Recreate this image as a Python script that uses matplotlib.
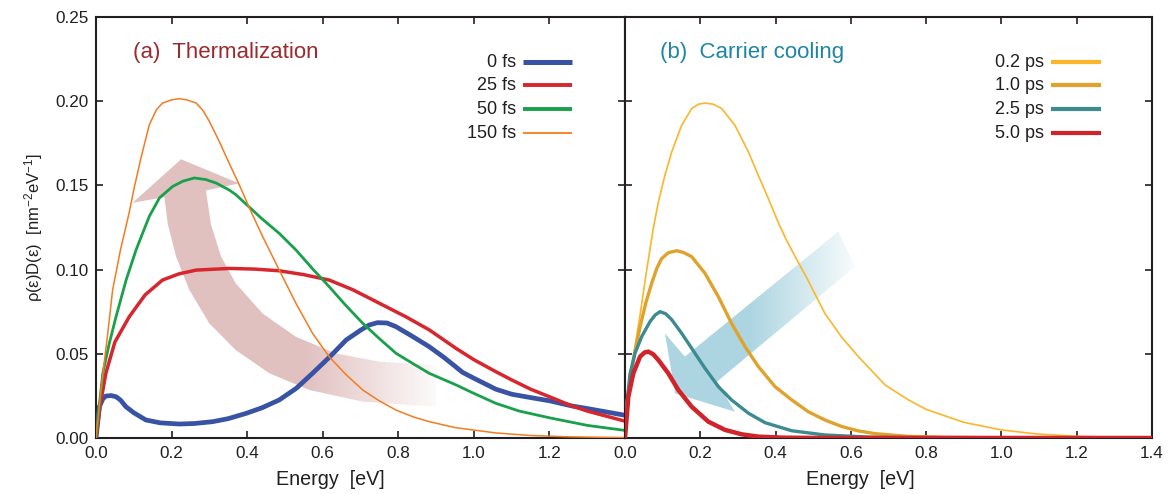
import numpy as np
import matplotlib
matplotlib.use("Agg")
import matplotlib.pyplot as plt
from matplotlib.patches import Polygon

plt.rcParams['font.family'] = ['Liberation Sans', 'DejaVu Sans']
plt.rcParams['mathtext.default'] = 'regular'

# ---- panel (a): thermalization ----
e_0fs = [0, 0.009, 0.018, 0.026, 0.040, 0.053, 0.065, 0.079, 0.100, 0.132, 0.170, 0.220, 0.260,
         0.309, 0.350, 0.397, 0.440, 0.485, 0.530, 0.573, 0.620, 0.662, 0.700, 0.723, 0.745, 0.770,
         0.794, 0.840, 0.882, 0.920, 0.948, 0.970, 1.000, 1.058, 1.100, 1.150, 1.200, 1.260, 1.300,
         1.350, 1.400]
v_0fs = [0, 0.0186, 0.0232, 0.0249, 0.0252, 0.0245, 0.0225, 0.0186, 0.0150, 0.0107, 0.0090, 0.0083,
         0.0086, 0.0097, 0.0115, 0.0146, 0.0180, 0.0226, 0.0295, 0.0384, 0.0485, 0.0582, 0.0640,
         0.0671, 0.0685, 0.0683, 0.0661, 0.0600, 0.0542, 0.0480, 0.0430, 0.0390, 0.0355, 0.0290,
         0.0260, 0.0240, 0.0221, 0.0190, 0.0175, 0.0155, 0.0135]

e_25fs = [0, 0.010, 0.026, 0.050, 0.088, 0.130, 0.176, 0.220, 0.265, 0.353, 0.420, 0.485, 0.550,
          0.617, 0.680, 0.750, 0.820, 0.882, 0.953, 1.000, 1.058, 1.100, 1.150, 1.200, 1.260, 1.300,
          1.350, 1.400]
v_25fs = [0, 0.018, 0.0384, 0.057, 0.0720, 0.0850, 0.0938, 0.0975, 0.0997, 0.1007, 0.1003, 0.0993,
          0.0970, 0.0938, 0.0880, 0.0800, 0.0720, 0.0642, 0.0532, 0.0465, 0.0394, 0.0345, 0.0290,
          0.0245, 0.0190, 0.0160, 0.0130, 0.0100]

e_50fs = [0, 0.008, 0.018, 0.035, 0.053, 0.080, 0.106, 0.141, 0.168, 0.203, 0.230, 0.260, 0.290,
          0.318, 0.353, 0.370, 0.415, 0.437, 0.485, 0.529, 0.573, 0.617, 0.660, 0.706, 0.750, 0.794,
          0.840, 0.882, 0.953, 1.000, 1.058, 1.120, 1.200, 1.300, 1.400]
v_50fs = [0, 0.018, 0.0384, 0.056, 0.0720, 0.094, 0.1117, 0.1316, 0.1426, 0.1494, 0.1525, 0.1544,
          0.1535, 0.1514, 0.1472, 0.1445, 0.1352, 0.1306, 0.1215, 0.1117, 0.1005, 0.0899, 0.0790,
          0.0681, 0.0590, 0.0503, 0.0440, 0.0384, 0.0315, 0.0265, 0.0206, 0.0160, 0.0120, 0.0075,
          0.0045]

e_150fs = [0, 0.013, 0.030, 0.044, 0.065, 0.088, 0.101, 0.119, 0.141, 0.160, 0.176, 0.200, 0.2205,
           0.240, 0.265, 0.283, 0.300, 0.326, 0.348, 0.379, 0.410, 0.441, 0.485, 0.529, 0.573,
           0.617, 0.660, 0.706, 0.750, 0.794, 0.840, 0.882, 0.950, 1.058, 1.150, 1.250, 1.400]
v_150fs = [0, 0.0285, 0.0600, 0.0879, 0.1120, 0.1340, 0.1485, 0.1663, 0.1860, 0.1950, 0.1989,
           0.2008, 0.2015, 0.2008, 0.1989, 0.1945, 0.1880, 0.1762, 0.1653, 0.1504, 0.1346, 0.1196,
           0.0997, 0.0800, 0.0622, 0.0483, 0.0380, 0.0285, 0.0220, 0.0166, 0.0125, 0.0097, 0.0062,
           0.0030, 0.0015, 0.0007, 0.0002]

# ---- panel (b): carrier cooling ----
e_02ps = [0, 0.005, 0.0133, 0.025, 0.040, 0.055, 0.075, 0.0886, 0.106, 0.124, 0.1505, 0.177,
          0.195, 0.2125, 0.235, 0.257, 0.292, 0.328, 0.354, 0.381, 0.407, 0.430, 0.461, 0.483, 0.531,
          0.575, 0.620, 0.691, 0.750, 0.800, 0.900, 1.000, 1.093, 1.200, 1.300, 1.400]
v_02ps = [0, 0.020, 0.0344, 0.052, 0.073, 0.096, 0.1243, 0.1401, 0.1560, 0.1698, 0.1857, 0.1956,
          0.1982, 0.1989, 0.1982, 0.1956, 0.1857, 0.1698, 0.1560, 0.1421, 0.1280, 0.1170, 0.1040,
          0.0950, 0.0740, 0.0600, 0.0483, 0.0315, 0.0230, 0.0170, 0.0093, 0.0048, 0.0024, 0.0010,
          0.0005, 0.0002]

e_10ps = [0, 0.005, 0.013, 0.025, 0.040, 0.055, 0.071, 0.085, 0.097, 0.115, 0.137, 0.155, 0.177,
          0.2125, 0.248, 0.283, 0.319, 0.354, 0.3985, 0.443, 0.487, 0.531, 0.576, 0.620, 0.664,
          0.750, 0.850, 1.000, 1.400]
v_10ps = [0, 0.020, 0.034, 0.050, 0.066, 0.080, 0.092, 0.101, 0.1065, 0.1100, 0.1112, 0.1102,
          0.1077, 0.0978, 0.0839, 0.0681, 0.0542, 0.0425, 0.0305, 0.0226, 0.0156, 0.0107, 0.0068,
          0.0042, 0.0026, 0.0010, 0.0004, 0.0001, 0.0]

e_25ps = [0, 0.005, 0.0133, 0.0266, 0.0443, 0.0664, 0.080, 0.093, 0.108, 0.124, 0.1505, 0.177,
          0.2125, 0.248, 0.283, 0.328, 0.372, 0.443, 0.531, 0.650, 0.800, 1.400]
v_25ps = [0, 0.020, 0.0380, 0.0503, 0.0602, 0.0691, 0.0730, 0.0750, 0.0738, 0.0703, 0.0622, 0.0533,
          0.0414, 0.0305, 0.0226, 0.0147, 0.0091, 0.0043, 0.0018, 0.0005, 0.0001, 0.0]

e_50ps = [0, 0.0089, 0.022, 0.040, 0.052, 0.062, 0.075, 0.0886, 0.115, 0.1417, 0.177, 0.2214,
          0.2657, 0.310, 0.354, 0.420, 0.500, 1.400]
v_50ps = [0, 0.0245, 0.0384, 0.0483, 0.0508, 0.0513, 0.0497, 0.0463, 0.0384, 0.0285, 0.0186,
          0.0097, 0.0048, 0.0022, 0.0008, 0.0002, 0.00005, 0.0]

labels_a = ['0 fs', '25 fs', '50 fs', '150 fs']
labels_b = ['0.2 ps', '1.0 ps', '2.5 ps', '5.0 ps']
colors_a = ['#3953a4', '#d7262e', '#19a04b', '#f47b20']
colors_b = ['#fbb62a', '#e1a22c', '#3c8b91', '#d2232a']
xticks = [0.0, 0.2, 0.4, 0.6, 0.8, 1.0, 1.2, 1.4]
yticks = [0.00, 0.05, 0.10, 0.15, 0.20, 0.25]

fig = plt.figure(figsize=(11.69, 4.94), dpi=100)
ax1 = fig.add_axes([96 / 1169, 56 / 494, 529 / 1169, 421 / 494])
ax2 = fig.add_axes([625 / 1169, 56 / 494, 527 / 1169, 421 / 494])

txt = '#231f20'


def gradient_arrow(ax, pts, rgb, e_full, e_zero, amax=1.0):
    poly = Polygon(pts, closed=True, facecolor='none', edgecolor='none', transform=ax.transData)
    ax.add_patch(poly)
    xs = np.linspace(0, 1.4, 400)
    alpha = np.clip((e_zero - xs) / (e_zero - e_full), 0, 1) * amax
    img = np.zeros((2, len(xs), 4))
    img[..., 0] = rgb[0]
    img[..., 1] = rgb[1]
    img[..., 2] = rgb[2]
    img[..., 3] = alpha[None, :]
    im = ax.imshow(img, extent=[0, 1.4, 0, 0.25], aspect='auto', origin='lower',
                   interpolation='bilinear', zorder=1)
    im.set_clip_path(poly)


# curved thermalization arrow (panel a)
outer = [(0.90, 0.0186), (0.706, 0.0216), (0.565, 0.0285), (0.459, 0.0384), (0.370, 0.0522),
         (0.300, 0.068), (0.247, 0.0879), (0.212, 0.1077), (0.190, 0.127), (0.181, 0.143)]
head_a = [(0.097, 0.1397), (0.225, 0.1655), (0.379, 0.1512)]
inner = [(0.291, 0.147), (0.304, 0.127), (0.331, 0.1077), (0.370, 0.0918), (0.441, 0.0739),
         (0.529, 0.0601), (0.635, 0.0502), (0.750, 0.0453), (0.90, 0.0433)]
gradient_arrow(ax1, outer + head_a + inner, (0.885, 0.755, 0.755), 0.55, 0.93)

# straight cooling arrow (panel b)
arrow_b = [(0.567, 0.1226), (0.159, 0.0483), (0.106, 0.0622), (0.133, 0.0265), (0.292, 0.0156),
           (0.244, 0.0334), (0.611, 0.1018)]
gradient_arrow(ax2, arrow_b, (0.66, 0.83, 0.88), 0.33, 0.64, 0.95)

# curves
lw_a = [3.4, 2.5, 2.0, 1.1]
for e, v, c, lw in zip([e_0fs, e_25fs, e_50fs, e_150fs], [v_0fs, v_25fs, v_50fs, v_150fs],
                       colors_a, lw_a):
    ax1.plot(e, v, color=c, lw=lw, zorder=3, solid_joinstyle='round')
lw_b = [1.2, 2.4, 2.4, 3.2]
for e, v, c, lw in zip([e_02ps, e_10ps, e_25ps, e_50ps], [v_02ps, v_10ps, v_25ps, v_50ps],
                       colors_b, lw_b):
    ax2.plot(e, v, color=c, lw=lw, zorder=3, solid_joinstyle='round')

for ax in (ax1, ax2):
    ax.set_xlim(0, 1.4)
    ax.set_ylim(0, 0.25)
    ax.set_xticks(xticks)
    ax.set_yticks(yticks)
    ax.tick_params(direction='in', length=5, width=1.2, top=True, right=True,
                   labelsize=12.3, colors=txt, pad=5)
    ax.tick_params(axis='x', pad=6)
    for s in ax.spines.values():
        s.set_linewidth(1.5)
        s.set_color('#231f20')
    ax.set_xlabel('Energy  [eV]', fontsize=14.2, color=txt)

ax1.set_xticklabels([f'{t:.1f}' for t in xticks[:-1]] + [''])
ax1.set_yticklabels([f'{t:.2f}' for t in yticks])
ax2.set_xticklabels([f'{t:.1f}' for t in xticks])
ax2.set_yticklabels([])
ax1.xaxis.set_label_coords(0.442, -0.075)
ax2.xaxis.set_label_coords(0.446, -0.075)
ax1.set_ylabel('ρ(ε)D(ε)  [nm$^{-2}$eV$^{-1}$]', fontsize=12, color=txt, labelpad=8)

ax1.text(0.07, 0.915, '(a)  Thermalization', transform=ax1.transAxes, fontsize=16,
         color='#9c2a2e', va='center')
ax2.text(0.066, 0.915, '(b)  Carrier cooling', transform=ax2.transAxes, fontsize=16,
         color='#1f85a3', va='center')

# legends: right-aligned labels followed by a short line sample
rows = [0.893, 0.838, 0.781, 0.724]
leg_lw_a = [3.6, 2.8, 2.8, 1.3]
for ax, labels, colors, lws, xt, x0, x1 in [
        (ax1, labels_a, colors_a, leg_lw_a, 0.794, 0.807, 0.900),
        (ax2, labels_b, colors_b, [3.0] * 4, 0.795, 0.808, 0.903)]:
    for y, lab, c, lw in zip(rows, labels, colors, lws):
        ax.text(xt, y, lab, transform=ax.transAxes, ha='right', va='center',
                fontsize=13, color=txt)
        ax.plot([x0, x1], [y, y], transform=ax.transAxes, color=c, lw=lw,
                solid_capstyle='butt')

fig.savefig('out.png', dpi=100)
